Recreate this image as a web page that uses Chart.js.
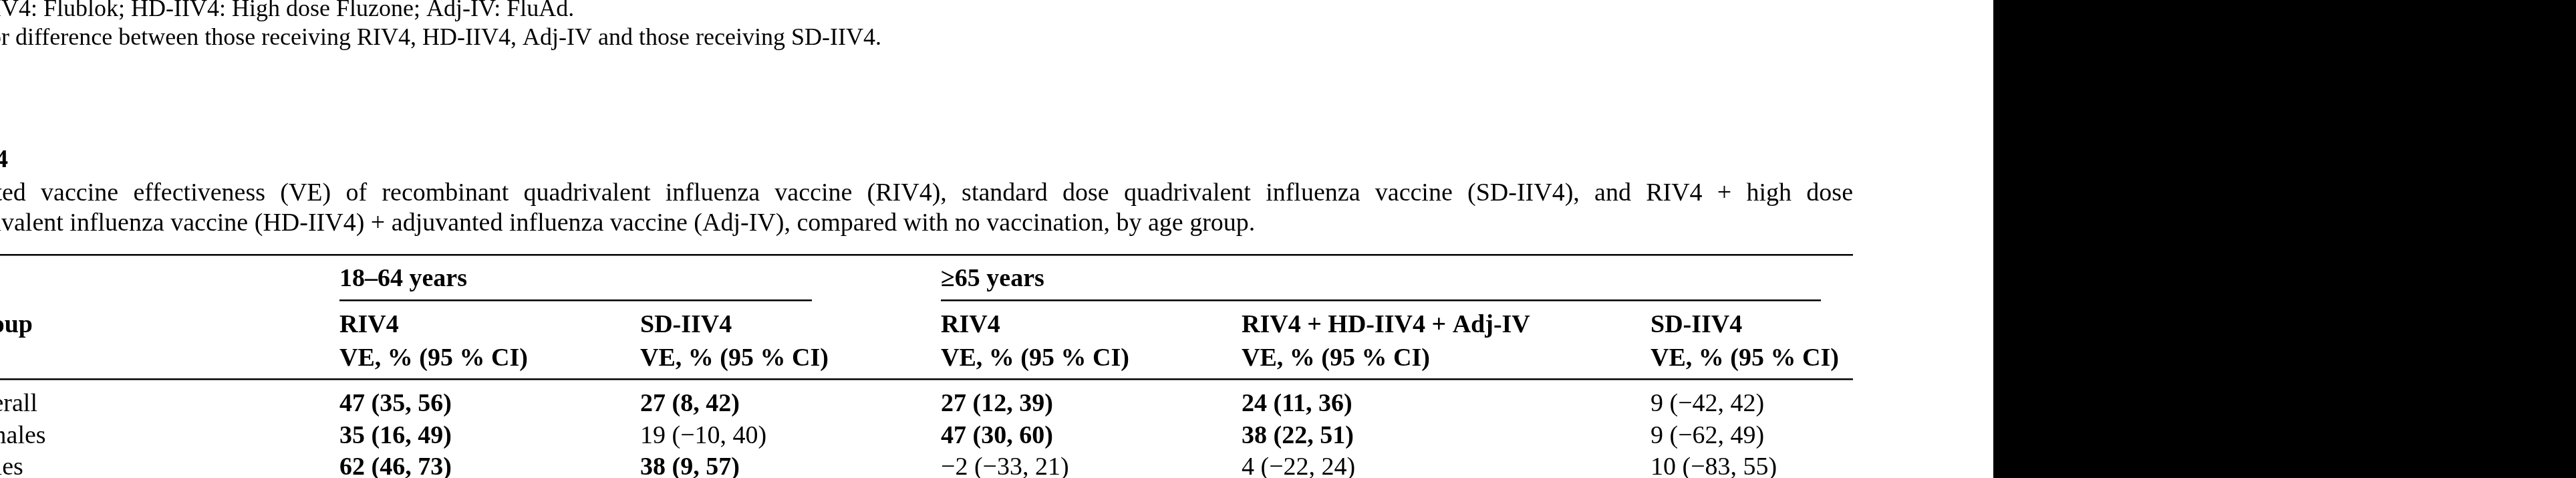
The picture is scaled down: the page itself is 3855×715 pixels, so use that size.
<!DOCTYPE html>
<html><head><meta charset="utf-8">
<script src="https://cdn.jsdelivr.net/npm/chart.js@4/dist/chart.umd.min.js"></script>
<style>html,body{margin:0;padding:0;background:#fff;overflow:hidden}canvas{display:block}</style>
</head><body><canvas id="c" width="3855" height="715"></canvas>
<script>
const noteLines = ["RIV4: Flublok; HD-IIV4: High dose Fluzone; Adj-IV: FluAd.",
  "p < 0.05 for difference between those receiving RIV4, HD-IIV4, Adj-IV and those receiving SD-IIV4."];
const tableTitle = "Table 4";
const captionLine1 = "Estimated vaccine effectiveness (VE) of recombinant quadrivalent influenza vaccine (RIV4), standard dose quadrivalent influenza vaccine (SD-IIV4), and RIV4 + high dose";
const captionLine2 = "quadrivalent influenza vaccine (HD-IIV4) + adjuvanted influenza vaccine (Adj-IV), compared with no vaccination, by age group.";
const ageGroups = ["18–64 years", "≥65 years"];
const vaccines = ["RIV4", "SD-IIV4", "RIV4", "RIV4 + HD-IIV4 + Adj-IV", "SD-IIV4"];
const subHeader = "VE, % (95 % CI)";
const categories = ["Overall", "Females", "Males"];
const values = [
  ["47 (35, 56)", "27 (8, 42)", "27 (12, 39)", "24 (11, 36)", "9 (−42, 42)"],
  ["35 (16, 49)", "19 (−10, 40)", "47 (30, 60)", "38 (22, 51)", "9 (−62, 49)"],
  ["62 (46, 73)", "38 (9, 57)", "−2 (−33, 21)", "4 (−22, 24)", "10 (−83, 55)"]
];
const significant = [
  [true, true, true, true, false],
  [true, false, true, true, false],
  [true, true, false, false, false]
];

const F = '"Liberation Serif", "DejaVu Serif", serif';
const colX = [508, 958, 1408, 1858, 2470];
const firstX = -58, tableRight = 2773;
const tablePlugin = {
  id: 'table',
  afterDraw(chart) {
    const ctx = chart.ctx;
    ctx.save();
    ctx.fillStyle = '#fff'; ctx.fillRect(0, 0, 3855, 715);
    ctx.fillStyle = '#000'; ctx.fillRect(2983, 0, 872, 715);
    ctx.textBaseline = 'middle';
    const txt = (s, x, y, bold, size) => { ctx.font = (bold ? 'bold ' : '') + (size || 38) + 'px ' + F; ctx.fillText(s, x, y); };
    ctx.font = '36px ' + F;
    txt(noteLines[0], 2 - ctx.measureText('RI').width, 15, false, 36);
    ctx.font = '36px ' + F;
    txt(noteLines[1], 2 - ctx.measureText('p < 0.05 fo').width, 58, false, 36);
    ctx.font = 'bold 38px ' + F;
    txt(tableTitle, 12 - ctx.measureText(tableTitle).width, 240, true);
    // justified caption line 1
    ctx.font = '38px ' + F;
    const words = captionLine1.split(' ');
    const start = 3 - ctx.measureText('Estimat').width;
    const tw = words.reduce((a, w) => a + ctx.measureText(w).width, 0);
    const gap = (tableRight - start - tw) / (words.length - 1);
    let x = start;
    words.forEach(w => { ctx.fillText(w, x, 290); x += ctx.measureText(w).width + gap; });
    txt(captionLine2, 2 - ctx.measureText('quadri').width, 335, false);
    // rules
    ctx.fillRect(0, 380, tableRight, 2.5);
    ctx.fillRect(colX[0], 448, 1215 - colX[0], 2.5);
    ctx.fillRect(colX[2], 448, 2725 - colX[2], 2.5);
    ctx.fillRect(0, 566, tableRight, 2.5);
    // headers
    txt(ageGroups[0], colX[0], 418, true);
    txt(ageGroups[1], colX[2], 418, true);
    txt("Group", firstX, 487, true);
    vaccines.forEach((v, i) => { txt(v, colX[i], 487, true); txt(subHeader, colX[i], 537, true); });
    const rowY = [605, 653, 700];
    categories.forEach((c, r) => {
      txt(c, firstX, rowY[r], false);
      values[r].forEach((v, i) => txt(v, colX[i], rowY[r], significant[r][i]));
    });
    ctx.restore();
  }
};
new Chart(document.getElementById('c'), {
  type: 'scatter',
  data: { datasets: [{ data: [] }] },
  options: { responsive: false, animation: false, devicePixelRatio: 1,
    plugins: { legend: { display: false }, tooltip: { enabled: false } },
    scales: { x: { display: false }, y: { display: false } } },
  plugins: [tablePlugin]
});
</script></body></html>
